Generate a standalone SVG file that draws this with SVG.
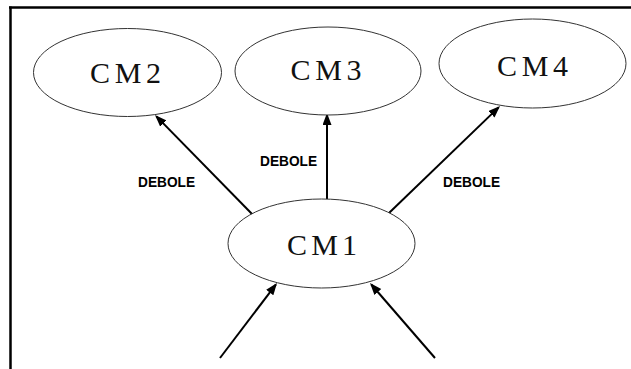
<svg xmlns="http://www.w3.org/2000/svg" width="631" height="369" viewBox="0 0 631 369">
<defs>
<style>
.node ellipse{fill:#fff;stroke:#333;stroke-width:1}
.node text{font-family:"Liberation Serif","Times New Roman",serif;font-size:30px;text-anchor:middle;fill:#111}
.edge{stroke:#000;stroke-width:2;fill:none;marker-end:url(#ah)}
.lbl{font-family:"Liberation Sans",Arial,sans-serif;font-weight:bold;font-size:14.5px;fill:#000}
.frame{stroke:#000;stroke-width:2.5}
</style>
<marker id="ah" markerUnits="userSpaceOnUse" markerWidth="14" markerHeight="10" refX="10" refY="4.5" orient="auto">
<path d="M0,0 L12,4.5 L0,9 z" fill="#000"/>
</marker>
</defs>
<rect width="631" height="369" fill="#fff"/>
<g id="frame">
<line class="frame" x1="9" y1="7.5" x2="631" y2="7.5"/>
<line class="frame" x1="10.5" y1="6.5" x2="10.5" y2="369"/>
</g>
<g id="connectors">
<line class="edge" x1="253" y1="215" x2="156.4" y2="116.4"/>
<line class="edge" x1="327" y1="199" x2="327" y2="115"/>
<line class="edge" x1="389" y1="213" x2="498.6" y2="107.4"/>
<line class="edge" x1="220" y1="358" x2="275.8" y2="284.6"/>
<line class="edge" x1="435" y1="358" x2="371.3" y2="284.5"/>
<text class="lbl" x="138" y="187" textLength="57" lengthAdjust="spacingAndGlyphs">DEBOLE</text>
<text class="lbl" x="260" y="166" textLength="57" lengthAdjust="spacingAndGlyphs">DEBOLE</text>
<text class="lbl" x="443" y="187" textLength="57" lengthAdjust="spacingAndGlyphs">DEBOLE</text>
</g>
<g id="CM2" class="node">
<ellipse cx="127.5" cy="72.5" rx="94" ry="44"/>
<text x="125.5" y="83" textLength="71">CM2</text>
</g>
<g id="CM3" class="node">
<ellipse cx="328" cy="71" rx="93" ry="44"/>
<text x="326" y="80" textLength="71">CM3</text>
</g>
<g id="CM4" class="node">
<ellipse cx="532.5" cy="63.5" rx="93.5" ry="44.5"/>
<text x="532.5" y="76" textLength="71">CM4</text>
</g>
<g id="CM1" class="node">
<ellipse cx="321.5" cy="243.5" rx="93.5" ry="44.5"/>
<text x="322" y="255" textLength="70">CM1</text>
</g>
</svg>
